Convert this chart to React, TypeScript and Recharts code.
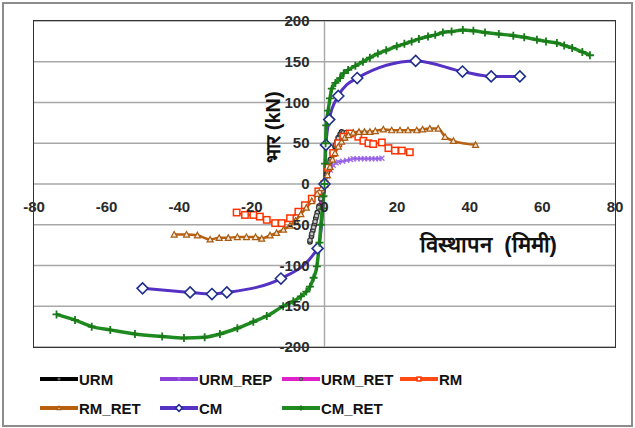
import React from 'react'
import { LineChart, Line, XAxis, YAxis, CartesianGrid, ReferenceLine } from 'recharts'

// [displacement mm, load kN]
const URM: number[][] = [
  [-4, -71], [-3.6, -64], [-3.2, -57], [-2.8, -50], [-2.4, -42], [-2, -35], [-1.5, -27], [-1, -18], [-0.5, -9],
  [0, 0], [0.6, 12], [1.2, 22], [1.6, 30], [2.2, 38], [2.9, 46], [3.4, 52], [3.8, 57], [4.3, 61], [4.7, 64],
]
const URM_REP: number[][] = [
  [0, 0], [0.8, 9], [1.6, 17], [2.4, 23], [3.2, 26], [3.8, 27], [5, 28], [6.1, 29], [7.2, 30], [7.9, 31],
  [9, 31], [10, 31], [11, 31], [12, 31], [13, 31], [14, 31], [15, 31], [15.8, 31.5],
]
const URM_RET: number[][] = [
  [-4, -69], [-3.5, -61], [-3, -53], [-2.6, -46], [-2.2, -39], [-1.6, -29], [-1, -18], [-0.5, -9],
  [0, 0], [0.8, 15], [1.5, 27], [2.2, 38], [3, 48], [3.8, 56], [4.5, 61], [5.2, 63], [6, 63], [7, 62],
]
const RM: number[][] = [
  [-24.2, -35], [-21.9, -38], [-19.6, -38], [-17.8, -40], [-15.9, -44], [-13.6, -48], [-11.8, -48],
  [-9.5, -42], [-7.2, -34], [-5.4, -26], [-3.5, -18], [-1.7, -9], [0, 0], [1, 20], [2.4, 38], [3.8, 50],
  [5.2, 58], [7, 62], [9.3, 58], [10.7, 53], [12.1, 50], [13.4, 49], [15.8, 51], [17.6, 44], [19.4, 41],
  [21.3, 41], [23.5, 39],
]
const RM_RET: number[][] = [
  [-41.4, -62], [-38, -62], [-35, -63], [-31.5, -68], [-29, -66], [-26.5, -66], [-24, -65], [-21.5, -65],
  [-19, -65], [-17.3, -67], [-15, -63], [-13.2, -60], [-11.3, -56], [-9.5, -51], [-8, -45], [-6.5, -37],
  [-5, -29], [-3.5, -21], [-2, -12], [-0.8, -5], [0, 1], [0.8, 11], [1.5, 21], [2.2, 30], [2.9, 38],
  [3.8, 46], [4.7, 52], [5.6, 57], [6.6, 60], [7.9, 63], [9.5, 64], [11, 64], [12.5, 64], [14, 65],
  [16.2, 67], [18.5, 66], [20.8, 66], [23, 66], [25.4, 66], [27, 67], [29, 68], [31.3, 68], [33.2, 58],
  [35.5, 53], [41.6, 48],
]
const CM: number[][] = [
  [-50.1, -128], [-37, -133], [-31, -135], [-26.9, -133], [-12, -116], [-1.9, -79], [0, 0],
  [0.4, 48], [1.3, 79], [3.8, 108], [9, 130], [25.1, 151], [38, 138], [45.9, 132], [53.8, 132],
]
const CM_RET: number[][] = [
  [-73.8, -160], [-68.7, -167], [-64.1, -175], [-59, -179], [-52.2, -184], [-44.7, -187], [-38.7, -189],
  [-33, -188], [-28.8, -184], [-24, -177], [-19.6, -169], [-15.9, -162], [-11.4, -150], [-8.6, -144],
  [-6.5, -138], [-5, -132], [-4, -126], [-3, -115], [-2.1, -101], [-1.4, -72], [-1, -50], [-0.6, -30],
  [-0.3, -15], [0, 0], [0.15, 25], [0.3, 50], [0.5, 72], [1, 90], [1.5, 105], [2, 117], [3, 124],
  [4.3, 130], [5.3, 136], [6.5, 140], [8.5, 145], [10.6, 150], [12.5, 155], [14.7, 160], [17, 164],
  [19.9, 169], [22, 172], [24, 175], [26, 178], [28.5, 181], [30.5, 183], [32.6, 186], [35, 187],
  [38.1, 189], [41, 188], [44.2, 186], [48, 184], [52, 182], [55, 180], [58.5, 177], [61, 175], [64, 173],
  [66, 170], [68.2, 167], [71, 162], [73.1, 158],
]

const X_TICKS = [-80, -60, -40, -20, 0, 20, 40, 60, 80]
const Y_TICKS = [-200, -150, -100, -50, 0, 50, 100, 150, 200]

const PLOT = { left: 34, top: 21, width: 581, height: 326 }
const AXIS_SIZE = 30
const FONT = "'Liberation Sans', Arial, sans-serif"

const SERIES = [
  { name: 'URM', data: URM, color: '#000000', mark: 'dot', markColor: '#222222', width: 2 },
  { name: 'URM_REP', data: URM_REP, color: '#8a3fd8', mark: 'x', markColor: '#a070e8', width: 2 },
  { name: 'URM_RET', data: URM_RET, color: '#e020c8', mark: 'dot', markColor: '#444444', width: 2 },
  { name: 'RM', data: RM, color: '#ff4a12', mark: 'square', markColor: '#ff3300', width: 2 },
  { name: 'RM_RET', data: RM_RET, color: '#b8600e', mark: 'tri', markColor: '#a85a10', width: 2.5 },
  { name: 'CM', data: CM, color: '#5632c4', mark: 'diamond', markColor: '#1f2f8c', width: 3 },
  { name: 'CM_RET', data: CM_RET, color: '#1f8a1f', mark: 'plus', markColor: '#1a7a1a', width: 3.5 },
]

function Marker({ kind, cx, cy, color, k = 1 }: { kind: string; cx: number; cy: number; color: string; k?: number }) {
  switch (kind) {
    case 'dot':
      return <circle cx={cx} cy={cy} r={2.2 * k} fill="#cccccc" stroke={color} strokeWidth={1.3} />
    case 'x': {
      const a = 2.5 * k
      return (
        <path d={`M${cx - a},${cy - a}L${cx + a},${cy + a}M${cx - a},${cy + a}L${cx + a},${cy - a}`}
          stroke={color} strokeWidth={1.3} />
      )
    }
    case 'square': {
      const a = 3.2 * k
      return <rect x={cx - a} y={cy - a} width={2 * a} height={2 * a} fill="#fff" stroke={color} strokeWidth={1.5} />
    }
    case 'tri': {
      const a = 3 * k
      return <path d={`M${cx},${cy - a}L${cx + a},${cy + a * 0.85}L${cx - a},${cy + a * 0.85}Z`} fill="#f3e6d6" stroke={color} strokeWidth={1.2} />
    }
    case 'diamond': {
      const a = 5.5 * k
      return <path d={`M${cx},${cy - a}L${cx + a},${cy}L${cx},${cy + a}L${cx - a},${cy}Z`} fill="#fff" stroke={color} strokeWidth={1.6} />
    }
    case 'plus': {
      const a = 4 * k
      return (
        <path d={`M${cx - a},${cy}L${cx + a},${cy}M${cx},${cy - a}L${cx},${cy + a}`} stroke={color} strokeWidth={1.8} />
      )
    }
    default:
      return null
  }
}

const renderXTick = (props: any) => (
  <text key={`xt-${props.index}`} x={props.x} y={PLOT.top + PLOT.height / 2 + 28} textAnchor="middle"
    fontFamily={FONT} fontWeight="bold" fontSize={15} fill="#2a2a2a">
    {props.payload.value}
  </text>
)

const renderYTick = (props: any) => (
  <text key={`yt-${props.index}`} x={PLOT.left + PLOT.width / 2 - 15} y={props.y + 5} textAnchor="end"
    fontFamily={FONT} fontWeight="bold" fontSize={15} fill="#2a2a2a">
    {props.payload.value}
  </text>
)

export default function App() {
  return (
    <div style={{ position: 'absolute', left: 0, top: 0, width: 635, height: 428, background: '#fff' }}>
      <div style={{ position: 'absolute', left: 2, top: 2, width: 627, height: 421, border: '2px solid #8c8c8c' }} />
      <LineChart width={635} height={428}
        margin={{
          top: PLOT.top,
          right: 635 - PLOT.left - PLOT.width,
          bottom: 428 - PLOT.top - PLOT.height - AXIS_SIZE,
          left: PLOT.left - AXIS_SIZE,
        }}>
        <CartesianGrid vertical={false} stroke="#a8a8a8" strokeWidth={1.4} />
        <XAxis type="number" dataKey="x" domain={[-80, 80]} ticks={X_TICKS} height={AXIS_SIZE}
          axisLine={false} tickLine={false} tick={renderXTick} interval={0} allowDataOverflow />
        <YAxis type="number" domain={[-200, 200]} ticks={Y_TICKS} width={AXIS_SIZE}
          axisLine={false} tickLine={false} tick={renderYTick} interval={0} allowDataOverflow />
        <ReferenceLine x={0} stroke="#a8a8a8" strokeWidth={1.4} />
        {SERIES.map(s => (
          <Line key={s.name} data={s.data.map(([x, y]) => ({ x, y }))} dataKey="y" name={s.name}
            type="monotoneX" stroke={s.color} strokeWidth={s.width} isAnimationActive={false}
            dot={(p: any) => <Marker key={`${s.name}-${p.index}`} kind={s.mark} cx={p.cx} cy={p.cy} color={s.markColor} />}
            activeDot={false} />
        ))}
      </LineChart>

      <div style={{
        position: 'absolute', left: PLOT.left - 1, top: PLOT.top - 1, width: PLOT.width, height: PLOT.height,
        border: '1.5px solid #333', pointerEvents: 'none',
      }} />

      <div style={{
        position: 'absolute', left: 272, top: 127, transform: 'translate(-50%, -50%) rotate(-90deg)',
        fontFamily: FONT, fontWeight: 'bold', fontSize: 20, whiteSpace: 'nowrap', color: '#111',
      }}>भार (kN)</div>
      <div style={{
        position: 'absolute', left: 420, top: 228, fontFamily: FONT, fontWeight: 'bold', fontSize: 22,
        whiteSpace: 'nowrap', color: '#111',
      }}>विस्थापन&nbsp; (मिमी)</div>

      {SERIES.map((s, i) => {
        const col = i < 4 ? i : i - 4
        const row = i < 4 ? 0 : 1
        return (
          <div key={s.name} style={{
            position: 'absolute', left: [40, 160, 282, 400][col], top: [369, 398][row],
            display: 'flex', alignItems: 'center', height: 20,
          }}>
            <svg width={38} height={14}>
              <line x1={0} y1={7} x2={38} y2={7} stroke={s.color} strokeWidth={4} />
              <Marker kind={s.mark} cx={19} cy={7} color={s.markColor} k={0.6} />
            </svg>
            <span style={{ fontFamily: FONT, fontWeight: 'bold', fontSize: 15, color: '#111', marginLeft: 1 }}>{s.name}</span>
          </div>
        )
      })}
    </div>
  )
}
